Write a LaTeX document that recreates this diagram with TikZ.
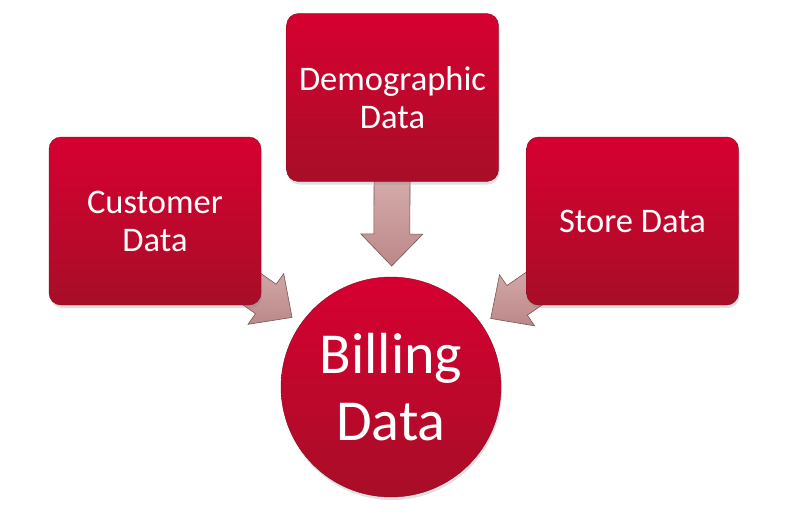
\documentclass[tikz,border=0pt]{standalone}
\usepackage{fontspec}
\setmainfont{Carlito}
\usetikzlibrary{calc,shadows}
\pgfdeclarelayer{bg}
\pgfsetlayers{bg,main}
\definecolor{redtop}{RGB}{214,0,48}
\definecolor{redbot}{RGB}{168,14,40}
\definecolor{pinktop}{RGB}{238,205,205}
\definecolor{pinkbot}{RGB}{188,136,136}
\definecolor{pinkline}{RGB}{120,85,85}
\newcommand\fatarrow[2]{%
  \path[fatarrowstyle] let \p1=(#1), \p2=(#2),
    \n1={atan2(\y2-\y1,\x2-\x1)}, \n2={veclen(\x2-\x1,\y2-\y1)} in
    ($(\p1)+({\n1+90}:18)$)
    -- ($(\p1)+({\n1}:{\n2-32})+({\n1+90}:18)$)
    -- ($(\p1)+({\n1}:{\n2-32})+({\n1+90}:31)$)
    -- (\p2)
    -- ($(\p1)+({\n1}:{\n2-32})+({\n1-90}:31)$)
    -- ($(\p1)+({\n1}:{\n2-32})+({\n1-90}:18)$)
    -- ($(\p1)+({\n1-90}:18)$) -- cycle;}
\begin{document}
\begin{tikzpicture}[x=1pt,y=1pt,
  databox/.style={rectangle, rounded corners=12pt, minimum width=212pt,
    minimum height=168pt, top color=redtop, bottom color=redbot,
    draw=redbot!80!black, line width=0.4pt, text=white, align=center,
    font=\fontsize{34.5}{38}\selectfont,
    drop shadow={opacity=0.25, shadow xshift=1pt, shadow yshift=-3pt}},
  hubcircle/.style={circle, minimum size=220pt, inner sep=0pt,
    top color=redtop, bottom color=redbot, draw=redbot!80!black,
    line width=0.4pt, text=white, align=center,
    font=\fontsize{58}{67}\selectfont,
    drop shadow={opacity=0.25, shadow xshift=1pt, shadow yshift=-3pt}},
  fatarrowstyle/.style={draw=pinkline, line width=0.6pt, line join=miter,
    top color=pinktop, bottom color=pinkbot}]
\useasboundingbox (0,0) rectangle (805,-519);
\node[databox] (cust) at (155,-221) {Customer\\Data};
\node[databox] (demo) at (392.5,-97.5) {Demographic\\Data};
\node[databox] (store) at (632.5,-221) {Store Data};
\node[hubcircle] (bill) at (391,-387) {Billing\\Data};
\coordinate (tipc) at ($(bill.center)!121pt!(cust.center)$);
\coordinate (tipd) at ($(bill.center)!121pt!(demo.center)$);
\coordinate (tips) at ($(bill.center)!121pt!(store.center)$);
\begin{pgfonlayer}{bg}
\fatarrow{cust.center}{tipc}
\fatarrow{demo.center}{tipd}
\fatarrow{store.center}{tips}
\end{pgfonlayer}
\end{tikzpicture}
\end{document}
